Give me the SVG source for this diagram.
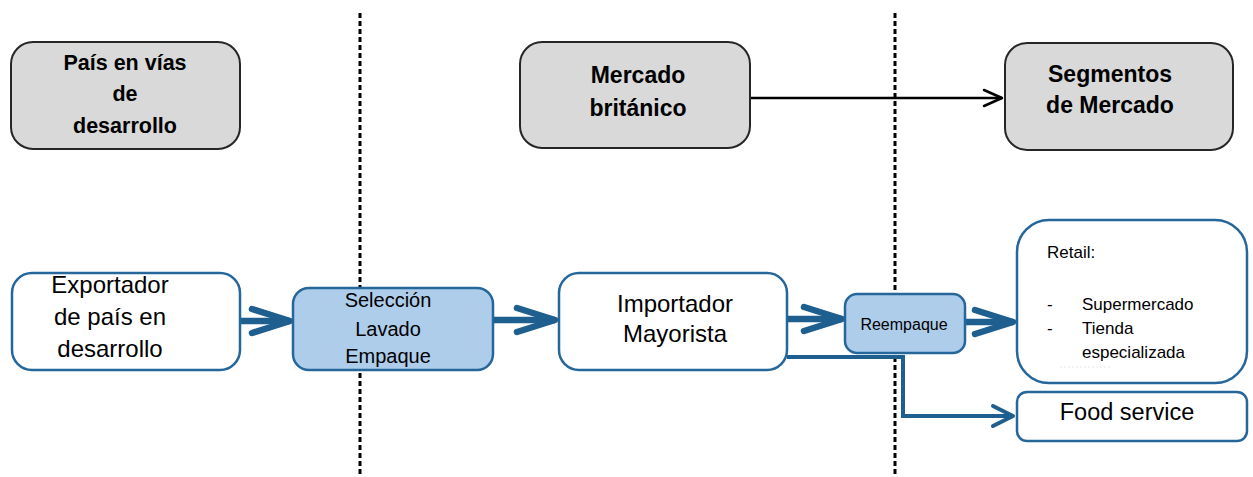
<svg xmlns="http://www.w3.org/2000/svg" width="1253" height="477" viewBox="0 0 1253 477">
<style>
.bg{fill:#ffffff}
.gray{fill:#d9d9d9;stroke:#262626;stroke-width:2}
.white{fill:#ffffff;stroke:#25679a;stroke-width:2.5}
.blue{fill:#aecdeb;stroke:#25679a;stroke-width:2.5}
.t{font-family:"Liberation Sans",Arial,sans-serif;fill:#000;text-anchor:middle}
.tb{font-family:"Liberation Sans",Arial,sans-serif;font-weight:bold;font-size:23px;fill:#000;text-anchor:middle}
.tl{font-family:"Liberation Sans",Arial,sans-serif;fill:#000;font-size:17px}
.div{stroke:#000;stroke-width:3;stroke-dasharray:5 3;fill:none}
.thick{stroke:#1f5f8f;stroke-width:6.5;fill:none}
.thin{stroke:#1f5f8f;stroke-width:4;fill:none;stroke-linejoin:miter}
.black{stroke:#000;stroke-width:2.5;fill:none}
</style>
<defs>
<marker id="mThick" markerUnits="userSpaceOnUse" markerWidth="60" markerHeight="40" viewBox="-10 -20 60 40" refX="40" refY="0" orient="auto">
<path d="M2,-12 L40,0 L2,12" fill="none" stroke="#1f5f8f" stroke-width="6.5" stroke-linecap="round" stroke-linejoin="round"/>
</marker>
<marker id="mThin" markerUnits="userSpaceOnUse" markerWidth="40" markerHeight="40" viewBox="-10 -20 40 40" refX="22" refY="0" orient="auto">
<path d="M2,-10 L22,0 L2,10" fill="none" stroke="#1f5f8f" stroke-width="4" stroke-linecap="round" stroke-linejoin="round"/>
</marker>
<marker id="mBlack" markerUnits="userSpaceOnUse" markerWidth="30" markerHeight="30" viewBox="-5 -15 30 30" refX="20" refY="0" orient="auto">
<path d="M2,-8 L20,0 L2,8" fill="none" stroke="#000" stroke-width="2.5" stroke-linecap="round" stroke-linejoin="round"/>
</marker>
</defs>
<rect class="bg" x="0" y="0" width="1253" height="477"/>

<g id="dividers">
<line class="div" x1="360" y1="13" x2="360" y2="477"/>
<line class="div" x1="895" y1="13" x2="895" y2="477"/>
</g>

<g id="connectors">
<line class="black" x1="750" y1="98" x2="1002" y2="98" marker-end="url(#mBlack)"/>
<line class="thick" x1="240" y1="321" x2="290" y2="321" marker-end="url(#mThick)"/>
<line class="thick" x1="493" y1="320" x2="555" y2="320" marker-end="url(#mThick)"/>
<line class="thick" x1="787" y1="319" x2="842" y2="319" marker-end="url(#mThick)"/>
<line class="thick" x1="965" y1="322" x2="1013" y2="322" marker-end="url(#mThick)"/>
<path class="thin" d="M787,357 H903 V416 H1013" marker-end="url(#mThin)"/>
</g>

<g id="pais">
<rect class="gray" x="11" y="42" width="229" height="107" rx="22"/>
<text class="tb" font-size="21.5" style="font-size:21.5px" x="125" y="70">País en vías</text>
<text class="tb" style="font-size:21.5px" x="125" y="101">de</text>
<text class="tb" style="font-size:21.5px" x="125" y="133">desarrollo</text>
</g>

<g id="mercado">
<rect class="gray" x="520" y="42" width="230" height="106" rx="22"/>
<text class="tb" x="638" y="83">Mercado</text>
<text class="tb" x="638" y="116">británico</text>
</g>

<g id="segmentos">
<rect class="gray" x="1005" y="43" width="228" height="107" rx="22"/>
<text class="tb" x="1110" y="82">Segmentos</text>
<text class="tb" x="1110" y="113">de Mercado</text>
</g>

<g id="exportador">
<rect class="white" x="12" y="273" width="228" height="97" rx="20"/>
<text class="t" font-size="24" x="110" y="293">Exportador</text>
<text class="t" font-size="24" x="110" y="325">de país en</text>
<text class="t" font-size="24" x="110" y="357">desarrollo</text>
</g>

<g id="seleccion">
<rect class="blue" x="293" y="288" width="200" height="82" rx="16"/>
<text class="t" font-size="20" x="388" y="307">Selección</text>
<text class="t" font-size="20" x="388" y="336">Lavado</text>
<text class="t" font-size="20" x="388" y="363">Empaque</text>
</g>

<g id="importador">
<rect class="white" x="559" y="273" width="228" height="97" rx="20"/>
<text class="t" font-size="24" x="675" y="312">Importador</text>
<text class="t" font-size="24" x="675" y="342">Mayorista</text>
</g>

<g id="reempaque">
<rect class="blue" x="845" y="294" width="120" height="59" rx="12"/>
<text class="t" font-size="16" x="904" y="330">Reempaque</text>
</g>

<g id="retail">
<rect class="white" x="1017" y="220" width="230" height="163" rx="32"/>
<text class="tl" x="1047" y="258">Retail:</text>
<text class="tl" x="1047" y="310">-</text>
<text class="tl" x="1082" y="310">Supermercado</text>
<text class="tl" x="1047" y="334">-</text>
<text class="tl" x="1082" y="334">Tienda</text>
<text class="tl" x="1082" y="358">especializada</text>
<line x1="1060" y1="367" x2="1110" y2="367" stroke="#e6e6e6" stroke-width="1" stroke-dasharray="2 2"/>
</g>

<g id="foodservice">
<rect class="white" x="1017" y="392" width="230" height="49" rx="10"/>
<text class="t" font-size="23.5" x="1127" y="420">Food service</text>
</g>
</svg>
